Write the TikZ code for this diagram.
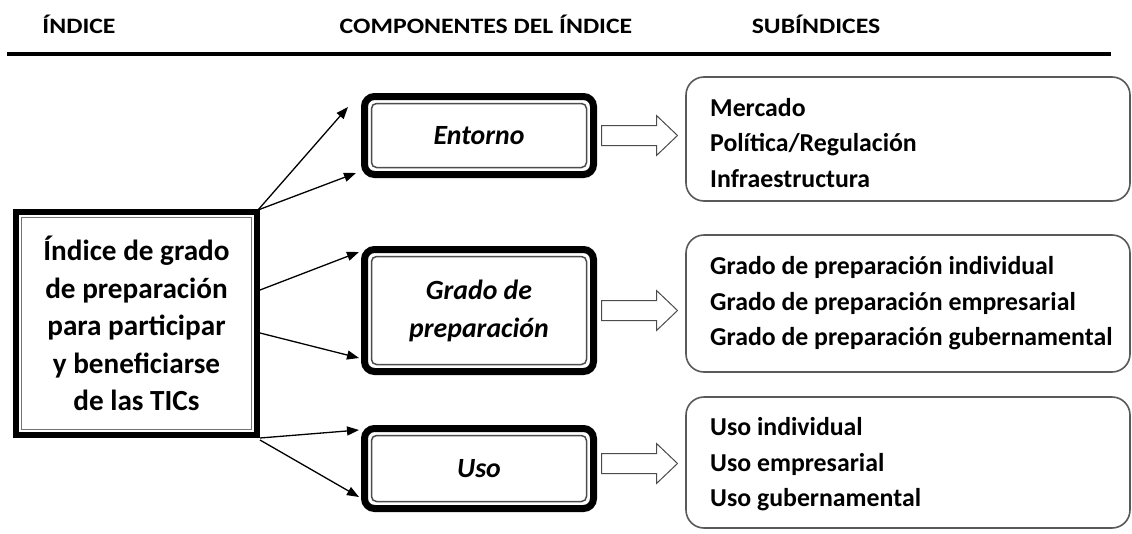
\documentclass[tikz,border=0pt]{standalone}
\usepackage{fontspec}
\setmainfont{Carlito}
\usetikzlibrary{arrows.meta,calc}
\newcommand{\hstretch}[1]{\scalebox{1.17}[1]{#1}}
\begin{document}
\begin{tikzpicture}[x=1pt,y=-1pt,
  hdr/.style={font=\fontsize{22}{26}\selectfont\bfseries, inner sep=0, anchor=base},
  mainbox/.style={draw=black, line width=6pt, outer sep=0, minimum width=241pt, minimum height=223pt, align=center, inner sep=0, font=\fontsize{29.2}{37.5}\selectfont\bfseries},
  mainin/.style={draw=black!55, line width=1.4pt},
  compbox/.style={draw=black, line width=7pt, outer sep=0, rounded corners=10pt, minimum width=229pt, align=center, inner sep=0, font=\fontsize{27.8}{38}\selectfont\bfseries\itshape},
  compin/.style={draw=black!70, line width=1.5pt, rounded corners=5pt},
  subbox/.style={draw=black!65, line width=1.6pt, outer sep=0, rounded corners=18pt, minimum width=444pt},
  subtext/.style={anchor=west, align=left, inner sep=0, font=\fontsize{25.8}{35.5}\selectfont\bfseries},
  link/.style={line width=1.3pt, -{Triangle[length=12pt,width=9pt]}},
  blockarrow/.style={draw=black!70, line width=1pt, fill=white},
]
\fill[white] (0,0) rectangle (1132,533);
\useasboundingbox (0,0) rectangle (1132,533);

% header
\node[hdr] (h1) at (79,33) {\hstretch{ÍNDICE}};
\node[hdr] (h2) at (486,33) {\hstretch{COMPONENTES DEL ÍNDICE}};
\node[hdr] (h3) at (816,33) {\hstretch{SUBÍNDICES}};
\draw[line width=4pt] (7,53.5) -- (1111,53.5);

% main box
\node[mainbox] (L) at (136.5,323.5) {Índice de grado\\de preparación\\para participar\\y beneficiarse\\de las TICs};
\draw[mainin] ([shift={(5.5,5.5)}]L.north west) rectangle ([shift={(-5.5,-5.5)}]L.south east);

% component boxes
\node[compbox, minimum height=78pt] (E) at (479,135.5) {Entorno};
\draw[compin] ([shift={(7,7)}]E.north west) rectangle ([shift={(-7,-7)}]E.south east);
\node[compbox, minimum height=122pt] (G) at (479,310.5) {Grado de\\preparación};
\draw[compin] ([shift={(7,7)}]G.north west) rectangle ([shift={(-7,-7)}]G.south east);
\node[compbox, minimum height=80pt] (U) at (479,468.5) {Uso};
\draw[compin] ([shift={(7,7)}]U.north west) rectangle ([shift={(-7,-7)}]U.south east);

% sub-index boxes
\node[subbox, minimum height=124pt] (S1) at (908,139) {};
\node[subtext] (S1t) at ([shift={(24,4)}]S1.west) {Mercado\\Política/Regulación\\Infraestructura};
\node[subbox, minimum height=137pt] (S2) at (908,303.5) {};
\node[subtext] (S2t) at ([shift={(24,0)}]S2.west) {Grado de preparación individual\\Grado de preparación empresarial\\Grado de preparación gubernamental};
\node[subbox, minimum height=131pt] (S3) at (908,462.5) {};
\node[subtext] (S3t) at ([shift={(24,2)}]S3.west) {Uso individual\\Uso empresarial\\Uso gubernamental};

% connectors
\draw[link] ([shift={(1,-2)}]L.north east) -- ([shift={(-16.5,-28.5)}]E.west);
\draw[link] ([shift={(1,-2)}]L.north east) -- ([shift={(-8.5,37.5)}]E.west);
\draw[link] ([shift={(3,-33.5)}]L.east) -- ([shift={(-5.5,-58.5)}]G.west);
\draw[link] ([shift={(3,9.5)}]L.east) -- ([shift={(-5.5,47.5)}]G.west);
\draw[link] ([shift={(3,3)}]L.south east) -- ([shift={(-5.5,-38.5)}]U.west);
\draw[link] ([shift={(3,5)}]L.south east) -- ([shift={(-5.5,28.5)}]U.west);

% block arrows
\draw[blockarrow] ($(E.east)+(8,-10)$) -- ++(55,0) -- ++(0,-10) -- ++(21,20) -- ++(-21,20) -- ++(0,-10) -- ++(-55,0) -- cycle;
\draw[blockarrow] ($(G.east)+(8,-10)$) -- ++(55,0) -- ++(0,-10) -- ++(21,20) -- ++(-21,20) -- ++(0,-10) -- ++(-55,0) -- cycle;
\draw[blockarrow] ($(U.east)+(8,-15)$) -- ++(55,0) -- ++(0,-10) -- ++(21,20) -- ++(-21,20) -- ++(0,-10) -- ++(-55,0) -- cycle;
\end{tikzpicture}
\end{document}
